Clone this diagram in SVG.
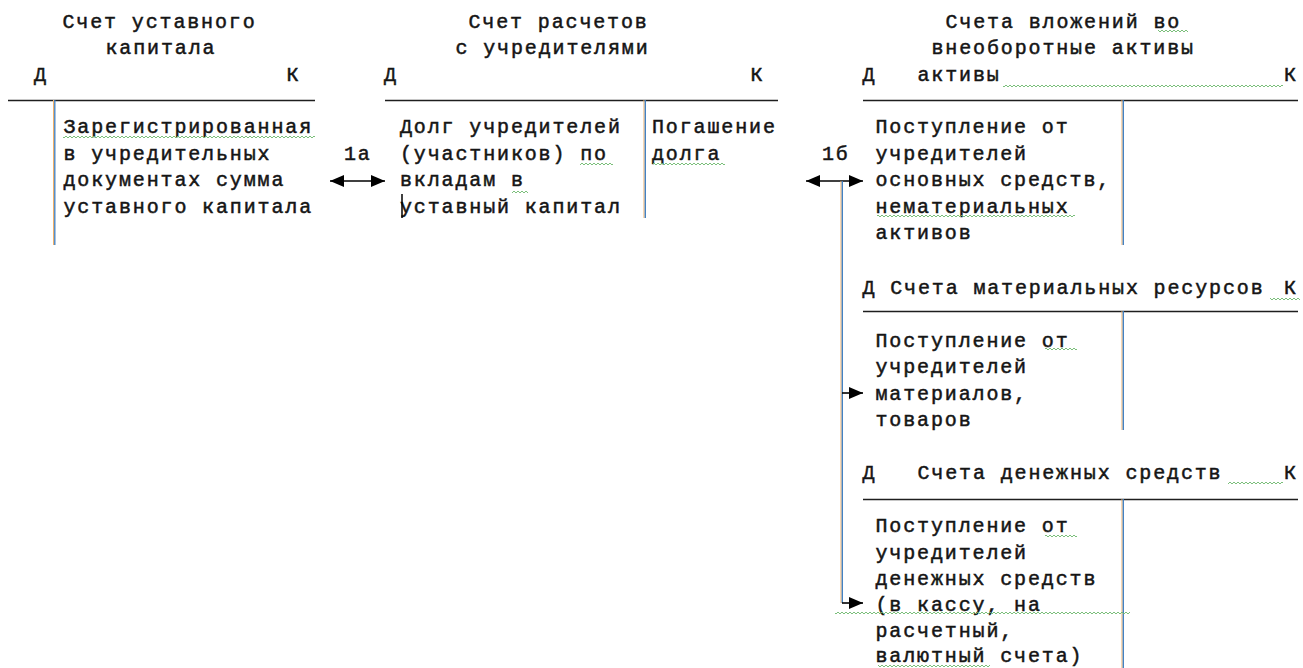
<svg xmlns="http://www.w3.org/2000/svg" width="1303" height="668" viewBox="0 0 1303 668">
<defs>
<style>
text{font-family:"Liberation Mono","Courier New",monospace;font-size:20px;letter-spacing:1.86px;fill:#151515;stroke:#151515;stroke-width:0.5px;white-space:pre;}
.h{stroke:#1e1e1e;stroke-width:1.4;fill:none}
.vo{stroke:#f0b06a;stroke-width:1;fill:none}
.vb{stroke:#3a7cc0;stroke-width:1.3;fill:none}
.c{stroke:#000;stroke-width:1.6;fill:none}
.sq{fill:url(#wave)}
</style>
<marker id="ah" viewBox="0 0 14 12" refX="14" refY="6" markerWidth="14" markerHeight="12" markerUnits="userSpaceOnUse" orient="auto-start-reverse">
<path d="M0,0 L14,6 L0,12 z" fill="#000"/>
</marker>
<pattern id="wave" width="4" height="4" patternUnits="userSpaceOnUse">
<path d="M0,3 L2,1 L4,3" fill="none" stroke="#6cb86c" stroke-width="0.9"/>
</pattern>
</defs>
<rect width="1303" height="668" fill="#fff"/>

<g id="account-ustavny">
<text x="62.5" y="28">Счет уставного</text>
<text x="105.5" y="54">капитала</text>
<text x="34" y="81">Д</text>
<text x="286.5" y="81">К</text>
<path class="h" d="M8,100.5H315"/>
<path class="vo" d="M53.5,100V245"/><path class="vb" d="M54.8,100V245"/>
<text x="63.5" y="133">Зарегистрированная</text>
<text x="63.5" y="160">в учредительных</text>
<text x="63.5" y="186">документах сумма</text>
<text x="63.5" y="213">уставного капитала</text>
</g>

<g id="account-uchrediteli">
<text x="468.5" y="28">Счет расчетов</text>
<text x="455.5" y="54">с учредителями</text>
<text x="384" y="81">Д</text>
<text x="750.5" y="81">К</text>
<path class="h" d="M385,100.5H778"/>
<path class="vo" d="M644,100V218"/><path class="vb" d="M645.3,100V218"/>
<text x="400" y="133">Долг учредителей</text>
<text x="400" y="160">(участников) по</text>
<text x="400" y="186">вкладам в</text>
<text x="400" y="213">уставный капитал</text>
<text x="652" y="133">Погашение</text>
<text x="652" y="160">долга</text>
<path d="M402,194V218" stroke="#000" stroke-width="1.5"/>
</g>

<g id="account-vlozheniya">
<text x="945.5" y="28">Счета вложений во</text>
<text x="931.5" y="54">внеоборотные активы</text>
<text x="862.5" y="81">Д</text>
<text x="917.5" y="81">активы</text>
<text x="1284" y="81">К</text>
<path class="h" d="M863,100.5H1298"/>
<path class="vo" d="M1122,100V245"/><path class="vb" d="M1123.3,100V245"/>
<text x="875.5" y="133">Поступление от</text>
<text x="875.5" y="160">учредителей</text>
<text x="875.5" y="186">основных средств,</text>
<text x="875.5" y="213">нематериальных</text>
<text x="875.5" y="239">активов</text>
</g>

<g id="account-materialy">
<text x="862.5" y="294">Д Счета материальных ресурсов</text>
<text x="1284" y="294">К</text>
<path class="h" d="M863,311.5H1298"/>
<path class="vo" d="M1122,311V430"/><path class="vb" d="M1123.3,311V430"/>
<text x="875.5" y="347">Поступление от</text>
<text x="875.5" y="373">учредителей</text>
<text x="875.5" y="400">материалов,</text>
<text x="875.5" y="426">товаров</text>
</g>

<g id="account-dengi">
<text x="862.5" y="479">Д</text>
<text x="917.5" y="479">Счета денежных средств</text>
<text x="1284" y="479">К</text>
<path class="h" d="M863,499.5H1298"/>
<path class="vo" d="M1122,499V668"/><path class="vb" d="M1123.3,499V668"/>
<text x="875.5" y="532">Поступление от</text>
<text x="875.5" y="559">учредителей</text>
<text x="875.5" y="585">денежных средств</text>
<text x="875.5" y="611">(в кассу, на</text>
<text x="875.5" y="637">расчетный,</text>
<text x="875.5" y="662">валютный счета)</text>
</g>

<g id="connectors">
<text x="344" y="160">1а</text>
<path class="c" d="M330,181H385" marker-start="url(#ah)" marker-end="url(#ah)"/>
<text x="822" y="160">1б</text>
<path class="c" d="M806,181H863" marker-start="url(#ah)" marker-end="url(#ah)"/>
<path class="vo" d="M841,181V603"/><path class="vb" d="M842.3,181V603"/>
<path class="c" d="M842,393H863" marker-end="url(#ah)"/>
<path class="c" d="M842,603H863" marker-end="url(#ah)"/>
</g>

<g id="spellcheck-marks">
<rect class="sq" x="63" y="0" width="252" height="4" transform="translate(0,135)"/>
<rect class="sq" x="580" y="0" width="33" height="4" transform="translate(0,162)"/>
<rect class="sq" x="512" y="0" width="16" height="4" transform="translate(0,190)"/>
<rect class="sq" x="653" y="0" width="72" height="4" transform="translate(0,162)"/>
<rect class="sq" x="1158" y="0" width="30" height="4" transform="translate(0,29)"/>
<rect class="sq" x="1003" y="0" width="280" height="4" transform="translate(0,84)"/>
<rect class="sq" x="877" y="0" width="198" height="4" transform="translate(0,214)"/>
<rect class="sq" x="1270" y="0" width="30" height="4" transform="translate(0,297)"/>
<rect class="sq" x="1045" y="0" width="32" height="4" transform="translate(0,347)"/>
<rect class="sq" x="1228" y="0" width="55" height="4" transform="translate(0,481)"/>
<rect class="sq" x="1045" y="0" width="32" height="4" transform="translate(0,534)"/>
<rect class="sq" x="835" y="0" width="295" height="4" transform="translate(0,611)"/>
<rect class="sq" x="878" y="0" width="112" height="4" transform="translate(0,664)"/>
</g>
</svg>
